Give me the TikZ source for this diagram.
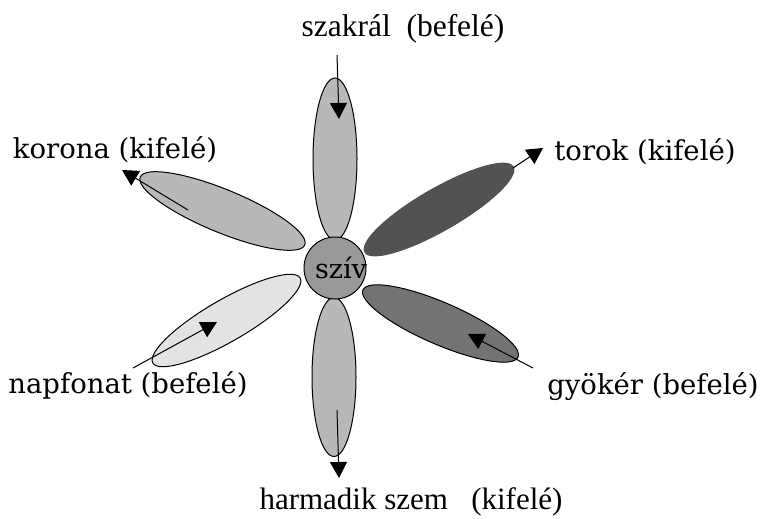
\documentclass[tikz,border=0pt]{standalone}
\usepackage{fontspec}
\setmainfont{Liberation Serif}
\newfontfamily\slabfont{DejaVu Serif}
\usetikzlibrary{arrows.meta,shapes.geometric}
\definecolor{petalmid}{gray}{0.72}
\definecolor{petallight}{gray}{0.89}
\definecolor{petaldark}{gray}{0.32}
\definecolor{petaldeep}{gray}{0.45}
\definecolor{heartgray}{gray}{0.60}
\tikzset{
  petal/.style={ellipse, draw=black, line width=1pt, inner sep=0pt, outer sep=0pt},
  flow/.style={line width=1pt, -{Triangle[width=17pt,length=16pt]}},
  sidelabel/.style={font=\slabfont\fontsize{27.5}{30}\selectfont, inner sep=0pt},
  biglabel/.style={font=\fontsize{31.5}{35}\selectfont, inner sep=0pt},
  bottomlabel/.style={font=\fontsize{31}{35}\selectfont, inner sep=0pt}
}
\begin{document}
\begin{tikzpicture}[x=1pt,y=-1pt]
\useasboundingbox (0,0) rectangle (763,519);
\fill[white] (0,0) rectangle (763,519);
% petals
\node[petal, fill=petalmid, minimum width=44pt, minimum height=162pt] (szakral) at (335,159) {};
\node[petal, fill=petalmid, minimum width=44pt, minimum height=159pt] (harmadik) at (334,377) {};
\node[petal, fill=petalmid, minimum width=178pt, minimum height=43pt, rotate=-22.4] (korona) at (222.5,211) {};
\node[petal, fill=petaldark, draw=petaldark, minimum width=171pt, minimum height=42pt, rotate=29.9] (torok) at (439,209.5) {};
\node[petal, fill=petallight, minimum width=170pt, minimum height=42pt, rotate=30] (napfonat) at (226.5,320.5) {};
\node[petal, fill=petaldeep, minimum width=169pt, minimum height=42pt, rotate=-23.4] (gyoker) at (440.5,323.5) {};
% heart
\node[circle, draw=black, line width=1pt, fill=heartgray, minimum size=62pt, inner sep=0pt] (sziv) at (335,268) {};
\node[font=\slabfont\fontsize{27}{30}\selectfont, inner sep=0pt] (szivtext) at (341,268) {szív};
% arrow end points
\coordinate (a1s) at (337,55);  \coordinate (a1e) at (339,119);
\coordinate (a2s) at (337,410); \coordinate (a2e) at (339,478);
\coordinate (a3s) at (188,210); \coordinate (a3e) at (122,170);
\coordinate (a4s) at (513,168); \coordinate (a4e) at (543,148);
\coordinate (a5s) at (133,368); \coordinate (a5e) at (217,322);
\coordinate (a6s) at (533,368); \coordinate (a6e) at (468,334);
\draw[flow] (a1s) -- (a1e);
\draw[flow] (a2s) -- (a2e);
\draw[flow] (a3s) -- (a3e);
\draw[flow] (a4s) -- (a4e);
\draw[flow] (a5s) -- (a5e);
\draw[flow] (a6s) -- (a6e);
% labels
\node[biglabel, anchor=base] (lszakral) at (403,37) {szakrál\ \ (befelé)};
\node[bottomlabel, anchor=base] (lharmadik) at (411,509) {harmadik szem\ \ \ (kifelé)};
\node[sidelabel] (lkorona) at (115,150) {korona (kifelé)};
\node[sidelabel] (ltorok) at (645,152) {torok (kifelé)};
\node[sidelabel] (lnapfonat) at (128,385) {napfonat (befelé)};
\node[sidelabel] (lgyoker) at (653,387) {gyökér (befelé)};
\end{tikzpicture}
\end{document}
